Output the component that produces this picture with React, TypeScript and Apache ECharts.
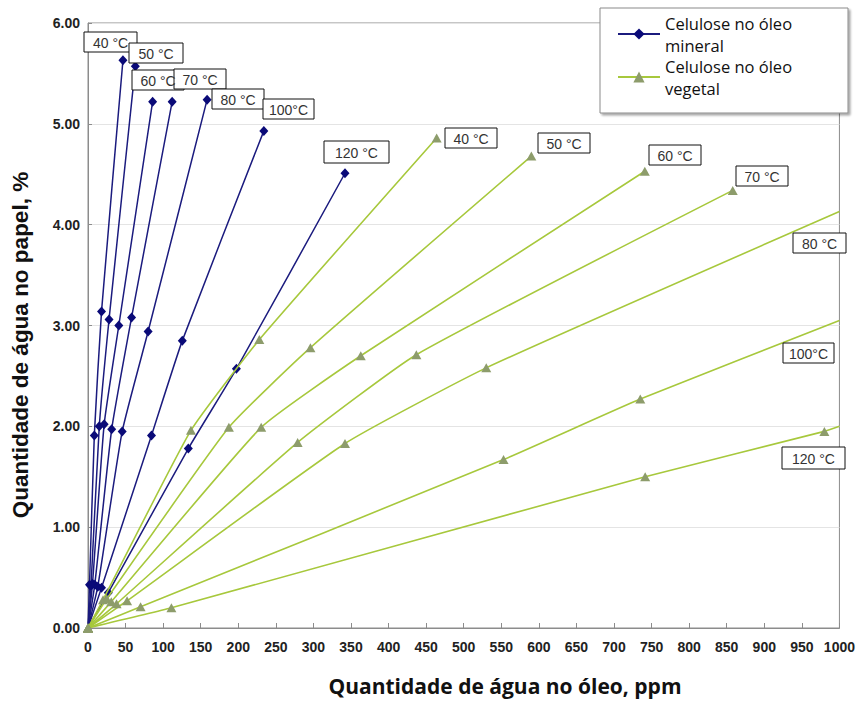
import React, { useEffect, useRef } from "react";
import * as echarts from "echarts";

// ---- data (x: água no óleo, ppm ; y: água no papel, %) ----
const mineral40 = [[0, 0], [2, 0.43], [8.4, 1.91], [18, 3.14], [46.5, 5.63]];
const mineral50 = [[0, 0], [4, 0.42], [15, 2.0], [28, 3.06], [63, 5.57]];
const mineral60 = [[0, 0], [6, 0.44], [21.5, 2.02], [41, 3.0], [86, 5.22]];
const mineral70 = [[0, 0], [9, 0.43], [31.5, 1.97], [58, 3.08], [112, 5.22]];
const mineral80 = [[0, 0], [13, 0.41], [45.5, 1.95], [80, 2.94], [158.5, 5.24]];
const mineral100 = [[0, 0], [18, 0.4], [84.5, 1.91], [125.5, 2.85], [234, 4.93]];
const mineral120 = [[0, 0], [27, 0.35], [133.5, 1.78], [197.5, 2.57], [342, 4.51]];

const vegetal40 = [[0, 0], [20, 0.28], [137, 1.96], [228, 2.86], [464, 4.86]];
const vegetal50 = [[0, 0], [25, 0.29], [187.5, 1.99], [296, 2.78], [590, 4.68]];
const vegetal60 = [[0, 0], [31, 0.26], [230.5, 1.99], [363, 2.7], [741, 4.53]];
const vegetal70 = [[0, 0], [38, 0.24], [279, 1.84], [437, 2.71], [858, 4.34]];
const vegetal80 = [[0, 0], [52, 0.27], [342, 1.83], [530, 2.58], [1000, 4.13]];
const vegetal100 = [[0, 0], [70, 0.21], [553, 1.67], [735, 2.27], [1000, 3.05]];
const vegetal120 = [[0, 0], [111, 0.2], [741.5, 1.5], [980, 1.95], [1000, 2.0]];

const mineralSeries = [mineral40, mineral50, mineral60, mineral70, mineral80, mineral100, mineral120];
const vegetalSeries = [vegetal40, vegetal50, vegetal60, vegetal70, vegetal80, vegetal100, vegetal120];
// vegetal curves that continue past the axis end (last value read at x = 1000)
const vegetalClipped = [false, false, false, false, true, true, true];

const mineralName = "Celulose no óleo mineral";
const vegetalName = "Celulose no óleo vegetal";

const mineralLabels = ["40 °C", "50 °C", "60 °C", "70 °C", "80 °C", "100°C", "120 °C"];
const vegetalLabels = ["40 °C", "50 °C", "60 °C", "70 °C", "80 °C", "100°C", "120 °C"];

const xTitle = "Quantidade de água no óleo, ppm";
const yTitle = "Quantidade de água no papel, %";

// ---- layout of the label boxes (pixel boxes: x1, y1, x2, y2) ----
const mineralBoxes = [
  [84, 32, 137, 52],
  [129, 43, 183, 63],
  [132, 70, 184, 90],
  [174, 69, 226, 89],
  [212, 89, 264, 109],
  [263, 99, 314, 119],
  [324, 141, 389, 163],
];
const vegetalBoxes = [
  [445, 128, 497, 148],
  [538, 133, 590, 153],
  [649, 145, 701, 165],
  [736, 166, 788, 186],
  [793, 233, 846, 253],
  [783, 343, 834, 363],
  [782, 447, 845, 469],
];

const NAVY_LINE = "#1b1b7e";
const NAVY_MARK = "#0a0a78";
const GREEN_LINE = "#a7c83c";
const GREEN_MARK = "#8d9c6b";
const FONT = '"Liberation Sans", Arial, sans-serif';

function labelBox(box: number[], text: string) {
  const [x1, y1, x2, y2] = box;
  return {
    type: "group",
    z: 5,
    children: [
      {
        type: "rect",
        z: 5,
        shape: { x: x1, y: y1, width: x2 - x1, height: y2 - y1 },
        style: { fill: "#fff", stroke: "#111", lineWidth: 1 },
      },
      {
        type: "text",
        z: 6,
        x: (x1 + x2) / 2,
        y: (y1 + y2) / 2 + 1,
        style: {
          text,
          font: `14px ${FONT}`,
          fill: "#333",
          align: "center",
          verticalAlign: "middle",
          textAlign: "center",
          textVerticalAlign: "middle",
        },
      },
    ],
  };
}

export default function App() {
  const ref = useRef<HTMLDivElement>(null);

  useEffect(() => {
    if (!ref.current) return;
    const chart = echarts.init(ref.current, null, { renderer: "svg" });

    const series: any[] = [];
    mineralSeries.forEach((d) => {
      series.push({
        name: mineralName,
        type: "line",
        smooth: 0.15,
        symbol: "diamond",
        symbolSize: [9, 10],
        data: d.map((p, i) => (i === 0 ? { value: p, symbol: "none" } : p)),
        lineStyle: { color: NAVY_LINE, width: 1.5 },
        itemStyle: { color: NAVY_MARK },
        z: 2,
      });
    });
    vegetalSeries.forEach((d, k) => {
      series.push({
        name: vegetalName,
        type: "line",
        smooth: 0.15,
        symbol: "triangle",
        symbolSize: [10, 9],
        data: d.map((p, i) =>
          vegetalClipped[k] && i === d.length - 1 ? { value: p, symbol: "none" } : p
        ),
        lineStyle: { color: GREEN_LINE, width: 1.6 },
        itemStyle: { color: GREEN_MARK },
        z: 3,
      });
    });

    const graphics: any[] = [
      {
        type: "rect",
        z: 3,
        shape: { x: 600, y: 8, width: 248, height: 105 },
        style: {
          fill: "#fff",
          stroke: "#8a8a8a",
          lineWidth: 1,
          shadowBlur: 2,
          shadowOffsetX: 2,
          shadowOffsetY: 2,
          shadowColor: "rgba(0,0,0,0.35)",
        },
      },
      {
        type: "text",
        z: 5,
        x: 20,
        y: 345,
        rotation: Math.PI / 2,
        style: {
          text: yTitle,
          font: `bold 22.5px ${FONT}`,
          fill: "#111",
          align: "center",
          verticalAlign: "middle",
          textAlign: "center",
          textVerticalAlign: "middle",
        },
      },
      {
        type: "text",
        z: 5,
        x: 505,
        y: 686,
        style: {
          text: xTitle,
          font: 'bold 21px "Open Sans", "Noto Sans", sans-serif',
          fill: "#111",
          align: "center",
          verticalAlign: "middle",
          textAlign: "center",
          textVerticalAlign: "middle",
        },
      },
    ];
    mineralBoxes.forEach((b, i) => graphics.push(labelBox(b, mineralLabels[i])));
    vegetalBoxes.forEach((b, i) => graphics.push(labelBox(b, vegetalLabels[i])));

    chart.setOption({
      animation: false,
      backgroundColor: "#fff",
      grid: {
        left: 88,
        right: 18,
        top: 23,
        bottom: 74,
        show: true,
        borderColor: "#8c8c8c",
        borderWidth: 1,
      },
      xAxis: {
        type: "value",
        min: 0,
        max: 1000,
        interval: 50,
        axisLine: { lineStyle: { color: "#8c8c8c" } },
        axisTick: { inside: true, length: 5, lineStyle: { color: "#8c8c8c" } },
        splitLine: { show: false },
        axisLabel: {
          fontFamily: FONT,
          fontWeight: "bold",
          fontSize: 14,
          color: "#222",
          margin: 12,
          formatter: (v: number) => String(v),
        },
      },
      yAxis: {
        type: "value",
        min: 0,
        max: 6,
        interval: 1,
        axisLine: { show: true, lineStyle: { color: "#8c8c8c" } },
        axisTick: { show: true, inside: true, length: 4, lineStyle: { color: "#8c8c8c" } },
        splitLine: { lineStyle: { color: "#e4e4e4" } },
        axisLabel: {
          fontFamily: FONT,
          fontWeight: "bold",
          fontSize: 14,
          color: "#222",
          margin: 8,
          formatter: (v: number) => v.toFixed(2),
        },
      },
      legend: {
        data: [mineralName, vegetalName],
        orient: "vertical",
        left: 617,
        top: -9,
        padding: 0,
        itemWidth: 42,
        itemHeight: 14,
        itemGap: -43,
        selectedMode: false,
        formatter: (name: string) => name.replace(" óleo ", " óleo\n"),
        textStyle: {
          fontFamily: '"Open Sans", "Noto Sans", sans-serif',
          fontSize: 16.5,
          lineHeight: 22,
          color: "#111",
          backgroundColor: "transparent",
          padding: [42, 0, 0, 0],
        },
        z: 4,
      },
      graphic: graphics,
      series,
    });

    return () => chart.dispose();
  }, []);

  return (
    <div
      ref={ref}
      style={{ position: "fixed", left: 0, top: 0, width: 858, height: 702 }}
    />
  );
}
